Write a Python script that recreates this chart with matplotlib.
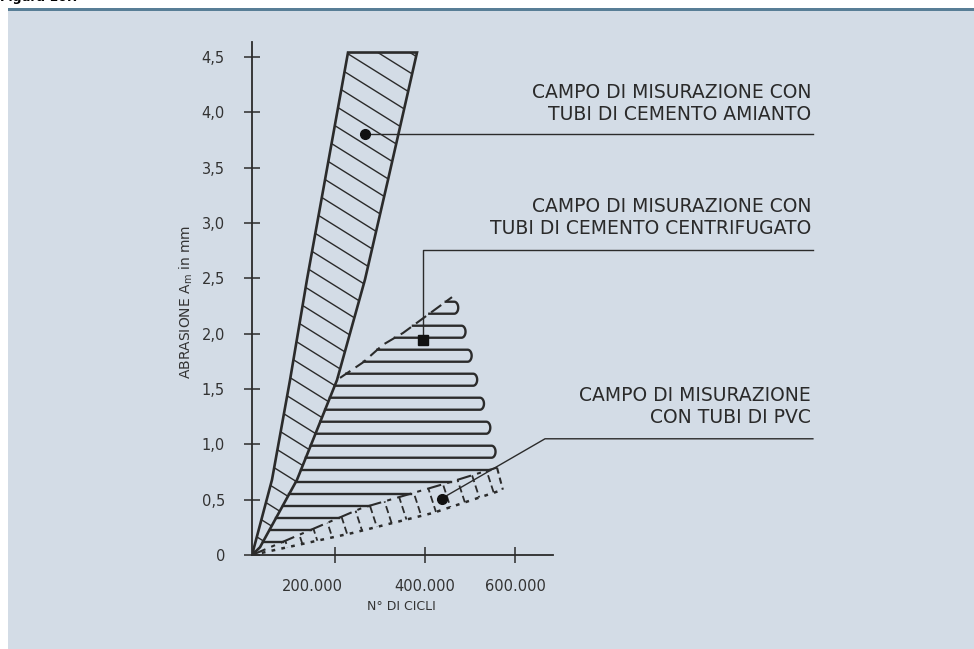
import matplotlib
matplotlib.use("Agg")
import matplotlib.pyplot as plt
import numpy as np
from matplotlib.patches import Polygon, Rectangle
from matplotlib.transforms import ScaledTranslation

# campo tubi di cemento amianto (N° di cicli, abrasione in mm)
amianto_left_x = [15600, 60000, 100000, 137800, 177800, 228900]
amianto_left_y = [0.0, 0.68, 1.58, 2.49, 3.39, 4.54]
amianto_right_x = [15600, 33300, 115600, 204400, 266700, 317800, 382200]
amianto_right_y = [0.0, 0.07, 0.68, 1.58, 2.49, 3.39, 4.54]

# campo tubi di cemento centrifugato
centr_top_x = [211100, 262200, 306700, 351100, 460000]
centr_top_y = [1.60, 1.74, 1.90, 2.006, 2.33]
centr_right_x = [560000, 548900, 537800, 522200, 506700, 495600, 482200, 462200, 460000]
centr_right_y = [0.79, 0.90, 1.13, 1.37, 1.58, 1.79, 2.01, 2.26, 2.33]

# campo tubi di PVC
pvc_upper_x = [15600, 260000, 448900, 560000]
pvc_upper_y = [0.0, 0.425, 0.65, 0.79]
pvc_lower_x = [15600, 240000, 417800, 573000]
pvc_lower_y = [0.0, 0.20, 0.38, 0.59]

y_ticks = [0, 0.5, 1.0, 1.5, 2.0, 2.5, 3.0, 3.5, 4.0, 4.5]
y_labels = ['0', '0,5', '1,0', '1,5', '2,0', '2,5', '3,0', '3,5', '4,0', '4,5']
x_ticks = [200000, 400000, 600000]
x_labels = ['200.000', '400.000', '600.000']

labels = ['CAMPO DI MISURAZIONE CON\nTUBI DI CEMENTO AMIANTO',
          'CAMPO DI MISURAZIONE CON\nTUBI DI CEMENTO CENTRIFUGATO',
          'CAMPO DI MISURAZIONE\nCON TUBI DI PVC']
# punti di riferimento e percorsi delle linee di richiamo
leader_x = [[266700, 1262000], [396300, 396300, 1262000], [437000, 666700, 1262000]]
leader_y = [[3.80, 3.80], [1.94, 2.76, 2.76], [0.51, 1.05, 1.05]]
label_y = [0.8398, 0.6649, 0.3744]

INK = '#2b2b2b'
BG = '#d3dce6'

W, H = 974, 649
fig = plt.figure(figsize=(W / 100, H / 100), dpi=100)
fig.patch.set_facecolor('white')
fig.patches.append(Rectangle((8 / W, 0), 1, 1 - 11 / H, transform=fig.transFigure,
                             facecolor=BG, edgecolor='none', zorder=-5))
fig.patches.append(Rectangle((8 / W, 1 - 11 / H), 1, 3 / H, transform=fig.transFigure,
                             facecolor='#587e96', edgecolor='none', zorder=-5))
fig.text(0.0, 1 - 1 / H, 'Figura 10.7', fontsize=9, fontweight='bold', va='baseline')

ax = fig.add_axes([252 / W, (H - 555) / H, 301 / W, 513 / H])
ax.set_facecolor('none')
xlim = (15556, 684444)
ylim = (0, 4.635)
ax.set_xlim(*xlim)
ax.set_ylim(*ylim)
xpp = (xlim[1] - xlim[0]) / 301.0   # unità per pixel
ypp = (ylim[1] - ylim[0]) / 513.0

for s in ['top', 'right']:
    ax.spines[s].set_visible(False)
for s in ['left', 'bottom']:
    ax.spines[s].set_color(INK)
    ax.spines[s].set_linewidth(1.3)

ax.set_yticks(y_ticks)
ax.set_yticklabels(y_labels)
ax.set_xticks(x_ticks)
ax.set_xticklabels(x_labels)
ax.tick_params(direction='inout', length=11, width=1.1, color=INK,
               labelsize=10.5, labelcolor='#333333')
ax.tick_params(axis='y', pad=14)
ax.tick_params(axis='x', pad=12)
first = ax.get_xticklabels()[0]
first.set_transform(first.get_transform() + ScaledTranslation(-0.23, 0, fig.dpi_scale_trans))

fig.text(401 / W, 1 - 606 / H, 'N° DI CICLI', fontsize=9, color='#333333',
         ha='center', va='center')
fig.text(186 / W, 1 - 302 / H, 'ABRASIONE A$_\\mathrm{m}$ in mm', fontsize=10,
         color='#333333', rotation=90, ha='center', va='center')

# amianto: fascia tratteggiata obliqua
am_x = amianto_left_x + amianto_right_x[::-1]
am_y = amianto_left_y + amianto_right_y[::-1]
am = Polygon(np.column_stack([am_x, am_y]), closed=True, facecolor='none',
             edgecolor=INK, linewidth=1.9, zorder=4)
ax.add_patch(am)
slope = np.tan(np.radians(32)) * ypp / xpp
xs = np.array([0, 800000])
for c in np.arange(0.05, 5.8, 20 * ypp):
    ln, = ax.plot(xs, c - slope * xs, color=INK, linewidth=1.0, zorder=3)
    ln.set_clip_path(am)

# centrifugato: linee orizzontali a serpentina
left_y = amianto_right_y[:4] + centr_top_y
left_x = amianto_right_x[:4] + centr_top_x
right_y = pvc_upper_y + centr_right_y[1:]
right_x = pvc_upper_x + centr_right_x[1:]
levels = np.arange(0.12, 2.29, 12 * ypp)[::-1]
xl = np.interp(levels, left_y, left_x)
xr = np.interp(levels, right_y, right_x)
for i in range(0, len(levels) - 1, 2):
    y1, y2 = levels[i], levels[i + 1]
    if y2 > 0.82:
        xm = (xr[i] + xr[i + 1]) / 2
        t = np.linspace(0, np.pi, 20)
        arc_x = xm + 4 * xpp * np.sin(t)
        arc_y = (y1 + y2) / 2 + (y1 - y2) / 2 * np.cos(t)
        px = np.concatenate([[xl[i]], arc_x, [xl[i + 1]]])
        py = np.concatenate([[y1], arc_y, [y2]])
        ax.plot(px, py, color=INK, linewidth=1.7, zorder=3)
    else:
        ax.plot([xl[i], xr[i]], [y1, y1], color=INK, linewidth=1.7, zorder=3)
        ax.plot([xl[i + 1], xr[i + 1]], [y2, y2], color=INK, linewidth=1.7, zorder=3)
if len(levels) % 2:
    ax.plot([xl[-1], xr[-1]], [levels[-1]] * 2, color=INK, linewidth=1.7, zorder=3)
ax.plot(centr_top_x, centr_top_y, color=INK, linewidth=1.5, linestyle=(0, (6, 3)), zorder=3)

# PVC: fascia a tratteggio discontinuo
pv_x = pvc_upper_x + pvc_lower_x[::-1]
pv_y = pvc_upper_y + pvc_lower_y[::-1]
pv = Polygon(np.column_stack([pv_x, pv_y]), closed=True, facecolor='none',
             edgecolor='none', zorder=3)
ax.add_patch(pv)
ax.plot(pvc_upper_x, pvc_upper_y, color=INK, linewidth=1.5,
        linestyle=(0, (7, 3, 2, 3)), zorder=4)
ax.plot(pvc_lower_x, pvc_lower_y, color=INK, linewidth=1.8, linestyle=(0, (1.5, 2.5)), zorder=4)
ax.plot([pvc_upper_x[-1], pvc_lower_x[-1]], [pvc_upper_y[-1], pvc_lower_y[-1]],
        color=INK, linewidth=1.5, linestyle=(0, (3, 2)), zorder=4)
steep = np.tan(np.radians(72)) * ypp / xpp
for x0 in np.arange(20000, 640000, 16 * xpp):
    ln, = ax.plot([x0, x0 + 2.0 / steep], [1.0, -1.0], color=INK, linewidth=1.3,
                  linestyle=(0, (4, 2)), zorder=3)
    ln.set_clip_path(pv)

# richiami e didascalie
for lx, ly in zip(leader_x, leader_y):
    ax.plot(lx, ly, color=INK, linewidth=1.0, clip_on=False, zorder=5)
ax.plot(leader_x[0][0], leader_y[0][0], 'o', color='#111111', markersize=7, zorder=6)
ax.plot(leader_x[1][0], leader_y[1][0], 's', color='#111111', markersize=6.5, zorder=6)
ax.plot(leader_x[2][0], leader_y[2][0], 'o', color='#111111', markersize=7, zorder=6)
for txt, yy in zip(labels, label_y):
    fig.text(811 / W, yy, txt, fontsize=13.5, color='#2a2a2a', ha='right', va='center',
             linespacing=1.2)

fig.savefig('out.png', dpi=100, facecolor=fig.get_facecolor())
